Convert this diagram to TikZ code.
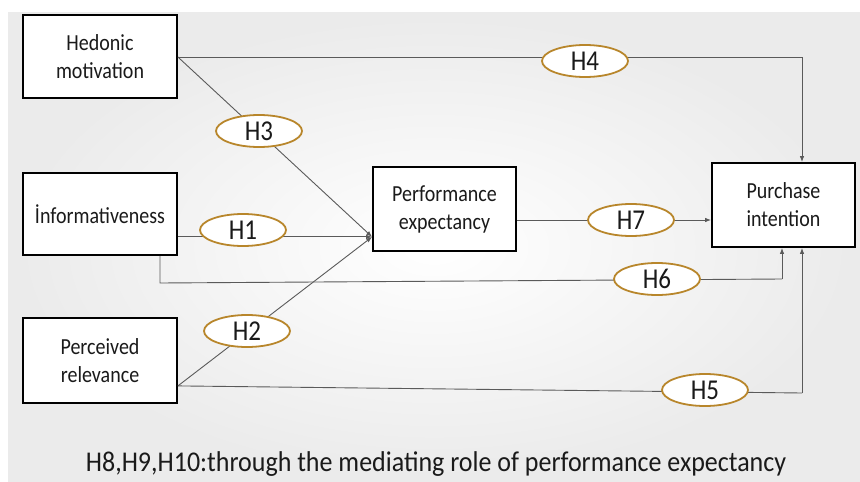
\documentclass[tikz,border=0pt]{standalone}
\usepackage{fontspec}
\setmainfont{Carlito}
\usetikzlibrary{arrows.meta,calc,shapes.geometric}
\definecolor{gold}{HTML}{B8862B}
\definecolor{lin}{HTML}{5A5A5A}
\definecolor{txt}{HTML}{1A1A1A}
\newcommand{\vst}[1]{\scalebox{1}[1.15]{#1}}
\tikzset{
  box/.style={draw=black,line width=1.8pt,fill=white,align=center,text=txt,
    minimum width=#1,font=\fontsize{20}{28}\selectfont,inner sep=2pt},
  hyp/.style={ellipse,draw=gold,line width=1.8pt,fill=white,minimum width=86pt,
    minimum height=32pt,inner sep=0pt,text=txt,font=\fontsize{25}{25}\selectfont},
  conn/.style={draw=lin,line width=0.9pt},
  arr/.style={conn,-{Latex[length=6pt,width=4.5pt]}}
}
\begin{document}
\begin{tikzpicture}[x=1pt,y=-1pt]
\useasboundingbox (0,0) rectangle (860,482);
\fill[white] (0,0) rectangle (860,482);
\shade[inner color=white,outer color=gray!16] (8,12) rectangle (860,482);
% boxes
\node[box=154pt,minimum height=83pt] (hed) at (100,56.5) {\vst{Hedonic}\\\vst{motivation}};
\node[box=154pt,minimum height=82pt] (inf) at (100,214) {\vst{İnformativeness}};
\node[box=154pt,minimum height=85pt] (per) at (100,360.5) {\vst{Perceived}\\\vst{relevance}};
\node[box=143pt,minimum height=84pt] (perf) at (444.5,209) {\vst{Performance}\\\vst{expectancy}};
\node[box=143pt,minimum height=84pt] (pur) at (783.5,205) {\vst{Purchase}\\\vst{intention}};
% anchor coordinates
\coordinate (pin) at ($(perf.south west)+(0,-15)$);
\coordinate (hout) at ($(hed.east)+(0,0.5)$);
\coordinate (iout) at ($(inf.south east)+(0,-19)$);
\coordinate (ibot) at ($(inf.south)+(60,0)$);
\coordinate (pout) at ($(per.south east)+(0,-18)$);
\coordinate (c6a) at (160,283);
\coordinate (c6b) at (782,279);
\coordinate (c5) at (802,393);
\coordinate (c4) at (802,57);
% connectors
\draw[conn] (hout) -- (c4);
\draw[arr] (c4) -- (c4 |- pur.north);
\draw[arr] (hout) -- (pin);
\draw[arr] (iout) -- (pin);
\draw[arr] (pout) -- (pin);
\draw[conn] (ibot) -- (c6a) -- (c6b);
\draw[arr] (c6b) -- (c6b |- pur.south);
\draw[conn] (pout) -- (c5);
\draw[arr] (c5) -- (c5 |- pur.south);
\draw[arr] ($(perf.east)+(0,11)$) -- ($(pur.west)+(0,15)$);
% hypothesis labels
\node[hyp] (h4) at (585,61) {\vst{H4}};
\node[hyp] (h3) at (259,131) {\vst{H3}};
\node[hyp] (h1) at (243,230) {\vst{H1}};
\node[hyp] (h2) at (247,331) {\vst{H2}};
\node[hyp] (h7) at (631,220) {\vst{H7}};
\node[hyp] (h6) at (657,279) {\vst{H6}};
\node[hyp] (h5) at (705,390) {\vst{H5}};
% caption
\node[text=txt,font=\fontsize{26}{26}\selectfont] (cap) at (436,464) {\scalebox{1}[1.1]{H8,H9,H10:through the mediating role of performance expectancy}};
\end{tikzpicture}
\end{document}
